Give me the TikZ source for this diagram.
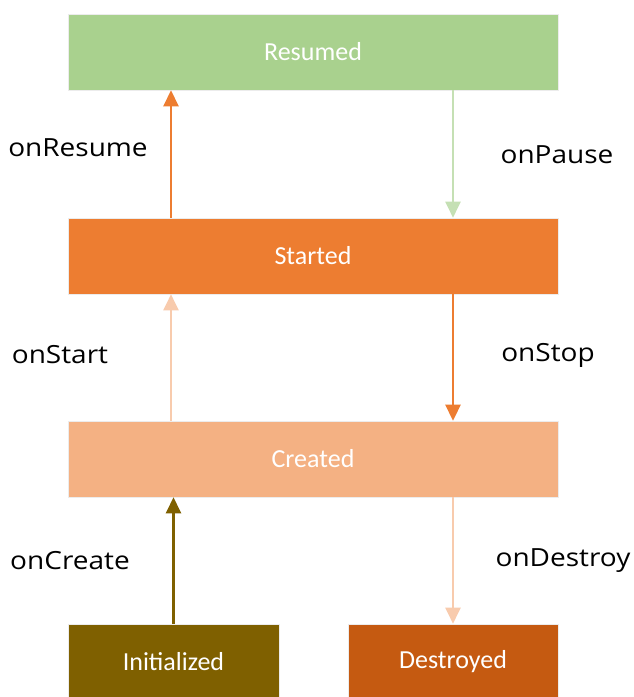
\documentclass[tikz,border=0pt]{standalone}
\usepackage{fontspec}
\setmainfont{Carlito}
\newfontfamily\labelfont[FakeStretch=1.12]{Open Sans}
\usetikzlibrary{arrows.meta}
\definecolor{resumedgreen}{HTML}{A9D18E}
\definecolor{startedorange}{HTML}{ED7D31}
\definecolor{createdpeach}{HTML}{F4B183}
\definecolor{initolive}{HTML}{7F6000}
\definecolor{destroyedrust}{HTML}{C55A11}
\definecolor{pausegreen}{HTML}{C5E0B4}
\definecolor{startpeach}{HTML}{F8CBAD}
\tikzset{
  state/.style={draw=gray!15, line width=0.6pt, text=white, minimum height=76pt,
    font=\fontsize{26}{30}\selectfont},
  wide/.style={state, minimum width=490pt},
  narrow/.style={state, minimum width=211pt},
  trans/.style={line width=2.6pt, -{Triangle[length=16pt,width=15pt]}},
  call/.style={font=\labelfont\fontsize{25}{30}\selectfont}
}
\begin{document}
\begin{tikzpicture}[x=1pt, y=-1pt]
    \useasboundingbox (0,0) rectangle (633,697);
    \fill[white] (0,0) rectangle (633,697);
    %states
    \node[wide, fill=resumedgreen] at (313,52) (resumed) {Resumed};
    \node[wide, fill=startedorange] at (313,256) (started) {Started};
    \node[wide, fill=createdpeach] at (313,459) (created) {Created};
    \node[narrow, fill=initolive] at (173.5,662) (init) {Initialized};
    \node[narrow, fill=destroyedrust, minimum width=210pt] at (453,662) (destroyed) {Destroyed};
    %transitions
    \draw[trans, startedorange] ([xshift=-142pt]started.north) -- ([xshift=-142pt]resumed.south);
    \draw[trans, pausegreen, line width=2pt] ([xshift=140pt]resumed.south) -- ([xshift=140pt]started.north);
    \draw[trans, startpeach, line width=2pt] ([xshift=-142pt]created.north) -- ([xshift=-142pt]started.south);
    \draw[trans, startedorange] ([xshift=140pt]started.south) -- ([xshift=140pt]created.north);
    \draw[trans, initolive] (init.north) -- (init.north |- created.south);
    \draw[trans, startpeach, line width=2pt] (destroyed.north |- created.south) -- (destroyed.north);
    %labels
    \node[call] at (78,148) (resumelbl) {onResume};
    \node[call] at (557,155) (pauselbl) {onPause};
    \node[call] at (60,355) (startlbl) {onStart};
    \node[call] at (548,355) (stoplbl) {onStop};
    \node[call] at (70,561) (createlbl) {onCreate};
    \node[call] at (563,561) (destroylbl) {onDestroy};
\end{tikzpicture}
\end{document}
